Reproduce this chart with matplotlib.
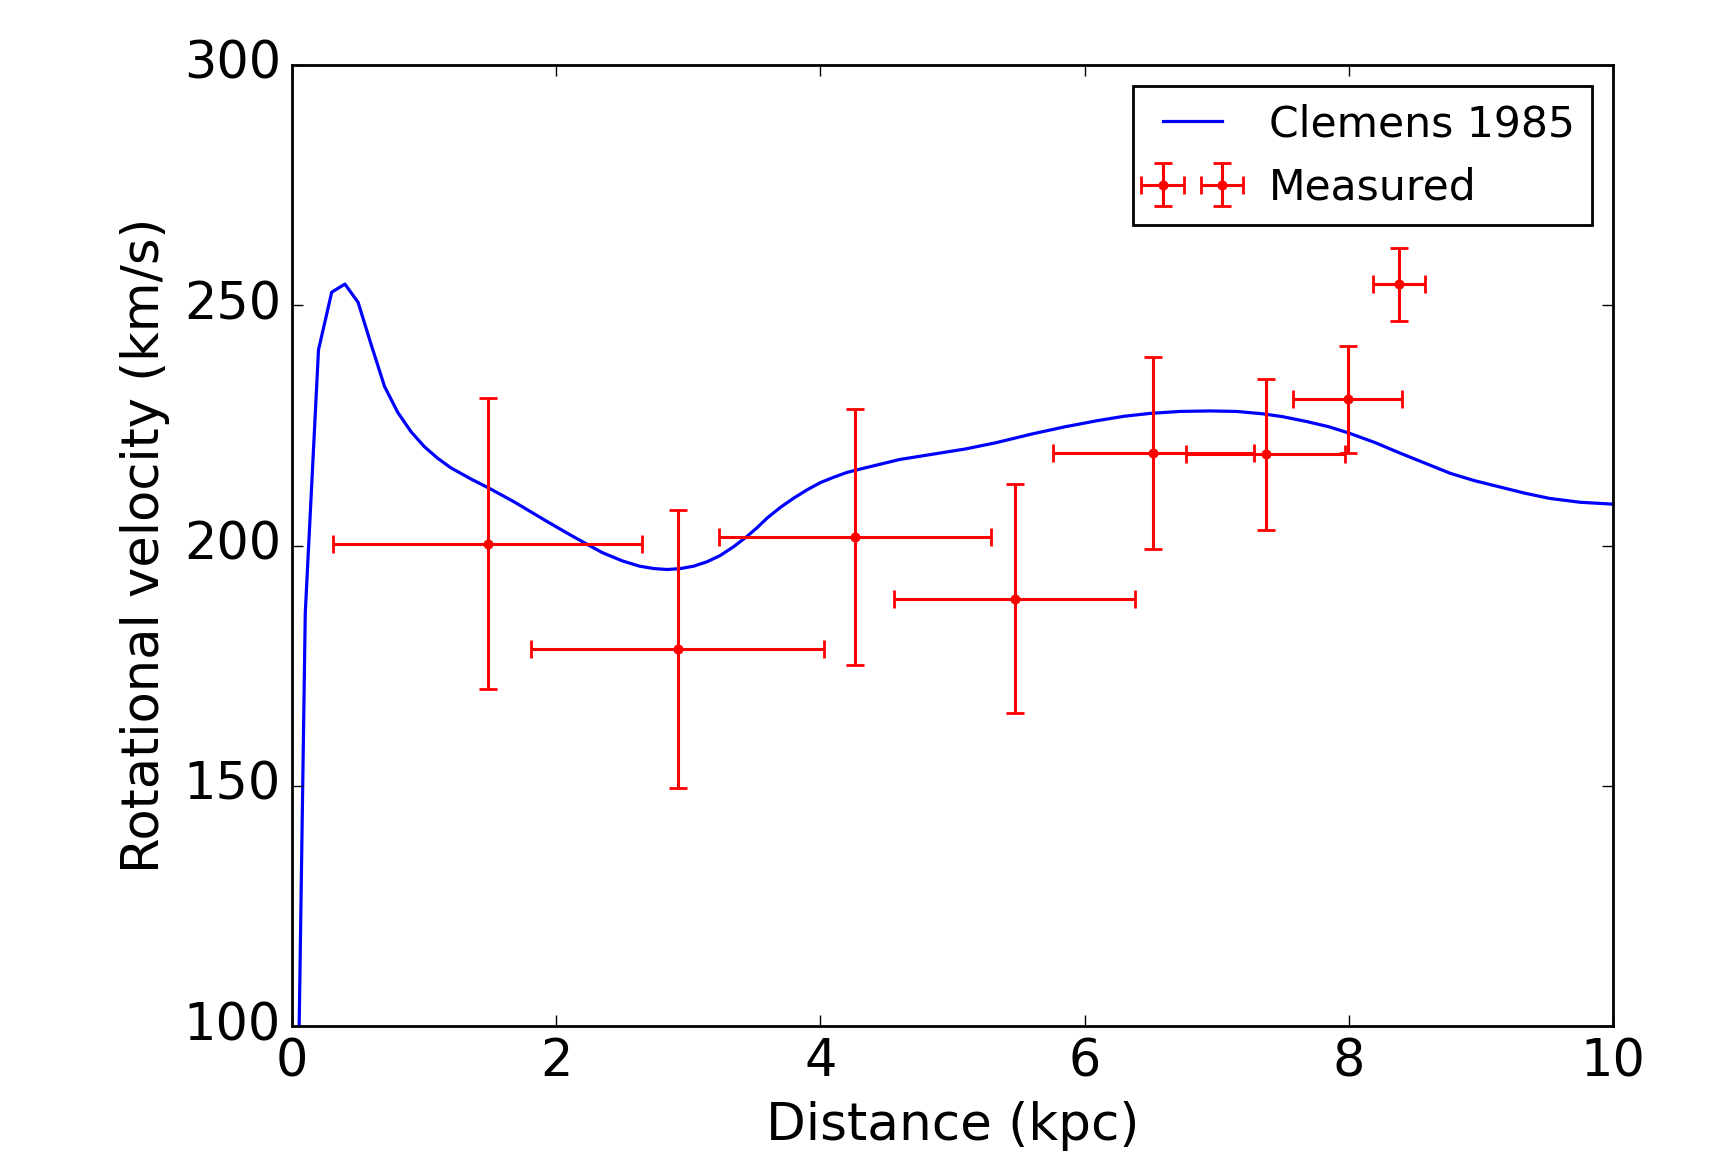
import matplotlib
matplotlib.use("Agg")
import matplotlib.pyplot as plt

plt.style.use("classic")

# Model rotation curve (Clemens 1985)
r_model = [0.0, 0.1, 0.2, 0.3, 0.4, 0.5, 0.6, 0.7, 0.8, 0.9, 1.0, 1.1, 1.2,
           1.35, 1.5, 1.68, 1.93, 2.1, 2.23, 2.35, 2.5, 2.63, 2.74, 2.84,
           2.94, 3.04, 3.14, 3.24, 3.34, 3.44, 3.52, 3.60, 3.70, 3.80, 3.90,
           4.00, 4.10, 4.20, 4.30, 4.45, 4.60, 4.85, 5.10, 5.33, 5.60,
           5.85, 6.10, 6.30, 6.50, 6.72, 6.95, 7.15, 7.35, 7.50, 7.68, 7.85,
           8.00, 8.20, 8.39, 8.58, 8.77, 8.95, 9.14, 9.33, 9.52, 9.75, 10.0]
v_model = [0.0, 186.0, 240.7, 252.7, 254.4, 250.6, 241.7, 233.1, 227.7, 223.7,
           220.6, 218.2, 216.2, 213.9, 211.8, 209.1, 205.0, 202.3, 200.3, 198.5,
           196.8, 195.7, 195.2, 195.0, 195.2, 195.7, 196.6, 197.9, 199.7, 201.8,
           203.7, 205.8, 208.0, 209.9, 211.6, 213.1, 214.2, 215.2, 215.9, 216.9,
           217.9, 219.0, 220.1, 221.4, 223.2, 224.7, 226.0, 226.9, 227.5, 227.9,
           228.0, 227.9, 227.4, 226.8, 225.8, 224.7, 223.4, 221.4, 219.2, 217.1,
           215.0, 213.5, 212.2, 210.9, 209.8, 209.0, 208.6]

# Measured points
r_meas = [1.48, 2.92, 4.26, 5.47, 6.52, 7.37, 7.99, 8.38]
v_meas = [200.4, 178.4, 201.8, 188.9, 219.2, 219.0, 230.4, 254.4]
r_err = [1.17, 1.11, 1.03, 0.91, 0.76, 0.60, 0.41, 0.20]
v_err = [30.3, 28.9, 26.7, 23.8, 20.0, 15.7, 11.2, 7.6]

fig = plt.figure(figsize=(8.57, 5.81), dpi=200)
ax = fig.add_axes([0.1704, 0.117, 0.9411 - 0.1704, 0.9441 - 0.117])

ax.plot(r_model, v_model, color="blue", lw=1.15, label="Clemens 1985")
eb = ax.errorbar(r_meas, v_meas, xerr=r_err, yerr=v_err, fmt="o", color="red",
                 ecolor="red", capsize=3.2, capthick=1.0, elinewidth=1.1,
                 label="Measured")
eb[0].set_markersize(3.6)
eb[0].set_markeredgewidth(0)

ax.set_xlim(0, 10)
ax.set_ylim(100, 300)
ax.set_xticks([0, 2, 4, 6, 8, 10])
ax.set_yticks([100, 150, 200, 250, 300])
ax.tick_params(labelsize=18.3)
ax.set_xlabel("Distance (kpc)", fontsize=18.6)
ax.set_ylabel("Rotational velocity (km/s)", fontsize=18.4)

ax.legend(loc="upper right", fontsize=15.3, numpoints=2)

fig.savefig("out.png", dpi=200)
